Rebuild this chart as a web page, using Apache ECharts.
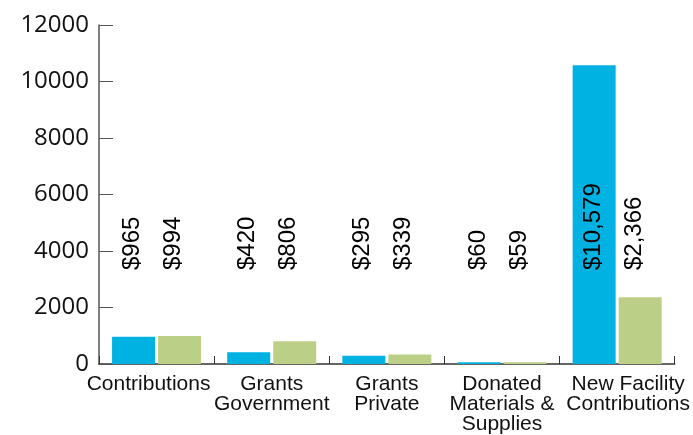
<!DOCTYPE html>
<html>
<head>
<meta charset="utf-8">
<script src="https://cdn.jsdelivr.net/npm/echarts@6/dist/echarts.min.js"></script>
<style>html,body{margin:0;padding:0;background:#fff}#c{width:693px;height:435px}</style>
</head>
<body>
<div id="c"></div>
<script>
const categories = ['Contributions', 'Grants\nGovernment', 'Grants\nPrivate', 'Donated\nMaterials &\nSupplies', 'New Facility\nContributions'];
const seriesA = [965, 420, 295, 60, 10579];
const seriesB = [994, 806, 339, 59, 2366];
const yMin = 0, yMax = 12000, yStep = 2000;

const catPadding = [[0, 16, 0, 0], [0, 0, 0, 0], [0, 0, 0, 0], [0, 0, 0, 0], [0, 0, 0, 22]];
const chart = echarts.init(document.getElementById('c'), null, {renderer: 'canvas'});
const fmt = p => '$' + p.value.toLocaleString('en-US');
function labelCfg(dy) {
  return {
    show: true, position: 'insideBottom', distance: 94, rotate: 90,
    align: 'left', verticalAlign: 'middle', offset: [0, dy],
    formatter: fmt, color: '#000', fontFamily: 'Liberation Sans, Arial, sans-serif', fontSize: 24
  };
}
chart.setOption({
  animation: false,
  grid: {left: 99, right: 18, top: 25, bottom: 71, containLabel: false},
  xAxis: {
    type: 'category',
    data: categories.map((c, i) => ({value: c, textStyle: {padding: catPadding[i]}})),
    axisLine: {lineStyle: {color: '#333', width: 1.5}},
    axisTick: {show: true, inside: true, length: 8, alignWithLabel: false, lineStyle: {color: '#333'}},
    axisLabel: {interval: 0, color: '#111', fontFamily: 'Liberation Sans, Arial, sans-serif', fontSize: 21, lineHeight: 20, margin: 10}
  },
  yAxis: {
    type: 'value', min: yMin, max: yMax, interval: yStep,
    axisLine: {show: true, lineStyle: {color: '#555', width: 1.5}},
    axisTick: {show: true, inside: true, length: 14, lineStyle: {color: '#555'}},
    splitLine: {show: false},
    axisLabel: {color: '#111', fontFamily: 'Open Sans, sans-serif', fontSize: 24, margin: 10, formatter: v => String(v)}
  },
  series: [
    {type: 'bar', data: seriesA, barWidth: 43, barGap: '7%', itemStyle: {color: '#00B2E1'}, label: labelCfg(-1)},
    {type: 'bar', data: seriesB, barWidth: 43, barGap: '7%', itemStyle: {color: '#BBD086'}, label: labelCfg(-6)}
  ]
});
</script>
</body>
</html>
